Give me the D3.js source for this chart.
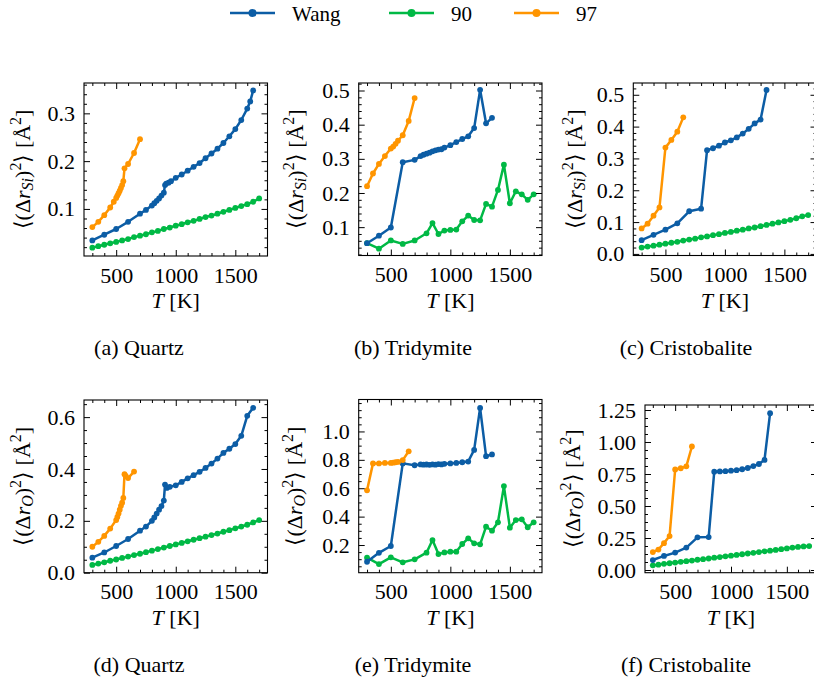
<!DOCTYPE html>
<html>
<head>
<meta charset="utf-8">
<script src="https://cdn.jsdelivr.net/npm/d3@7"></script>
<style>
  body { margin: 0; background: #fff; }
  svg { display: block; }
  text { font-family: "Liberation Serif", "Times New Roman", serif; fill: #000; }
</style>
</head>
<body>
<svg id="chart" width="814" height="680"></svg>
<script>
// ---- data ----
const seriesNames = ["Wang", "90", "97"];
const seriesColors = ["#0C5DA5", "#00B945", "#FF9500"];

const temps90 = [300,350,400,450,500,550,600,650,700,750,800,850,900,950,1000,1050,1100,1150,1200,1250,1300,1350,1400,1450,1500,1550,1600,1650,1700];
const tempsTrid90 = [300,400,500,600,700,800,850,900,950,1000,1050,1100,1150,1200,1250,1300,1350,1400,1450,1500,1550,1600,1650,1700];

// Quartz, Si
const quartzSiWangT = [300,400,500,600,700,750,800,820,840,860,880,900,910,920,940,960,1000,1050,1100,1150,1200,1250,1300,1350,1400,1450,1500,1550,1600,1625,1650];
const quartzSiWang = [.034,.046,.058,.073,.090,.098,.107,.112,.117,.122,.128,.134,.150,.153,.155,.158,.165,.172,.180,.188,.196,.206,.216,.226,.238,.252,.267,.286,.310,.325,.348];
const quartzSi90 = [.019,.022,.025,.028,.031,.034,.037,.041,.044,.047,.051,.054,.058,.061,.065,.068,.072,.075,.079,.083,.086,.090,.094,.098,.102,.106,.110,.115,.122];
const quartzSi97T = [300,350,400,450,480,500,510,520,530,540,550,560,570,600,650,700];
const quartzSi97 = [.062,.073,.087,.103,.115,.123,.128,.133,.138,.144,.150,.158,.185,.194,.217,.246];

// Tridymite, Si
const tridSiWangT = [300,400,500,600,700,750,775,800,825,850,875,900,925,950,1000,1050,1100,1150,1200,1250,1300,1350];
const tridSiWang = [.053,.075,.099,.290,.297,.308,.312,.315,.318,.322,.325,.327,.328,.333,.340,.349,.358,.366,.390,.502,.404,.420];
const tridSi90 = [.053,.037,.061,.051,.061,.082,.112,.080,.090,.092,.093,.117,.134,.121,.120,.168,.160,.209,.283,.170,.205,.196,.180,.196];
const tridSi97T = [300,350,400,450,500,520,540,560,600,650,700];
const tridSi97 = [.220,.257,.285,.308,.330,.336,.344,.353,.369,.411,.478];

// Cristobalite, Si
const cristSiWangT = [300,400,500,600,700,800,850,900,950,1000,1050,1100,1150,1200,1250,1300,1350];
const cristSiWang = [.043,.060,.076,.096,.134,.142,.326,.332,.340,.350,.357,.366,.378,.393,.410,.422,.515];
const cristSi90 = [.020,.023,.026,.029,.032,.035,.038,.042,.045,.048,.052,.055,.059,.062,.066,.069,.073,.076,.080,.083,.087,.091,.095,.099,.103,.107,.112,.118,.122];
const cristSi97T = [300,350,400,450,500,550,600,650];
const cristSi97 = [.080,.095,.120,.146,.334,.358,.384,.429];

// Quartz, O
const quartzOWangT = [300,400,500,600,700,750,800,820,840,860,880,900,910,925,950,1000,1050,1100,1150,1200,1250,1300,1350,1400,1450,1500,1550,1600,1650];
const quartzOWang = [.058,.078,.103,.130,.162,.178,.200,.213,.228,.243,.257,.278,.340,.327,.331,.337,.350,.364,.376,.389,.404,.421,.440,.462,.478,.496,.528,.605,.636];
const quartzO90 = [.030,.035,.040,.046,.051,.057,.062,.068,.073,.079,.085,.091,.097,.103,.109,.115,.121,.127,.133,.139,.145,.151,.158,.164,.171,.178,.185,.194,.203];
const quartzO97T = [300,350,400,450,500,510,520,530,540,550,560,570,580,600,650];
const quartzO97 = [.100,.119,.142,.170,.203,.215,.228,.243,.258,.270,.288,.380,.373,.365,.390];

// Tridymite, O
const tridOWangT = [300,400,500,600,700,750,775,800,825,850,875,900,925,950,1000,1050,1100,1150,1200,1250,1300,1350];
const tridOWang = [.082,.145,.193,.775,.762,.768,.766,.767,.765,.768,.766,.770,.768,.772,.775,.778,.783,.788,.870,1.165,.826,.838];
const tridO90 = [.111,.066,.113,.078,.099,.146,.235,.136,.148,.153,.153,.207,.247,.212,.205,.329,.301,.360,.615,.322,.376,.381,.325,.360];
const tridO97T = [300,350,400,450,500,520,540,560,600,650];
const tridO97 = [.585,.775,.775,.778,.778,.780,.783,.785,.798,.860];

// Cristobalite, O
const cristOWangT = [300,400,500,600,700,800,850,900,950,1000,1050,1100,1150,1200,1250,1300,1350];
const cristOWang = [.078,.110,.136,.175,.255,.257,.768,.770,.772,.776,.780,.787,.797,.812,.828,.860,1.225];
const cristO90 = [.037,.042,.048,.053,.058,.064,.069,.074,.080,.085,.090,.096,.101,.107,.112,.118,.123,.129,.134,.140,.146,.151,.157,.163,.169,.175,.180,.184,.187];
const cristO97T = [300,350,400,450,500,550,600,650];
const cristO97 = [.140,.160,.210,.265,.785,.795,.810,.965];

const xTicks = [500, 1000, 1500];

// ---- panel layout ----
const panels = [
  { cap: "(a) Quartz", capX: 139, atom: "Si", box: [84, 83, 267.5, 256], yDom: [0.0015, 0.3635], yTicks: [0.1, 0.2, 0.3], yFmt: ".1f", yMinor: 0.02, labX: 25,
    series: [[quartzSiWangT, quartzSiWang], [temps90, quartzSi90], [quartzSi97T, quartzSi97]] },
  { cap: "(b) Tridymite", capX: 413, atom: "Si", box: [358.7, 83, 542, 255.5], yDom: [0.017, 0.522], yTicks: [0.1, 0.2, 0.3, 0.4, 0.5], yFmt: ".1f", yMinor: 0.02, labX: 298,
    series: [[tridSiWangT, tridSiWang], [tempsTrid90, tridSi90], [tridSi97T, tridSi97]] },
  { cap: "(c) Cristobalite", capX: 686, atom: "Si", box: [633.3, 83, 816.5, 255.5], yDom: [-0.005, 0.537], yTicks: [0, 0.1, 0.2, 0.3, 0.4, 0.5], yFmt: ".1f", yMinor: 0.02, labX: 577,
    series: [[cristSiWangT, cristSiWang], [temps90, cristSi90], [cristSi97T, cristSi97]] },
  { cap: "(d) Quartz", capX: 139, atom: "O", box: [84, 400, 267.5, 572.7], yDom: [0, 0.666], yTicks: [0, 0.2, 0.4, 0.6], yFmt: ".1f", yMinor: 0.05, labX: 25,
    series: [[quartzOWangT, quartzOWang], [temps90, quartzO90], [quartzO97T, quartzO97]] },
  { cap: "(e) Tridymite", capX: 413, atom: "O", box: [358.7, 399.5, 542, 572.7], yDom: [0.005, 1.225], yTicks: [0.2, 0.4, 0.6, 0.8, 1.0], yFmt: ".1f", yMinor: 0.05, labX: 297,
    series: [[tridOWangT, tridOWang], [tempsTrid90, tridO90], [tridO97T, tridO97]] },
  { cap: "(f) Cristobalite", capX: 686, atom: "O", box: [645, 405, 817, 572.7], yDom: [-0.021, 1.289], yTicks: [0, 0.25, 0.5, 0.75, 1.0, 1.25], yFmt: ".2f", yMinor: 0.0625, labX: 575,
    series: [[cristOWangT, cristOWang], [temps90, cristO90], [cristO97T, cristO97]] }
];

const svg = d3.select("#chart");
const FS = 22;

function minorTicks(dom, step) {
  let out = [];
  let start = Math.ceil(dom[0] / step - 1e-9) * step;
  for (let v = start; v <= dom[1] + 1e-9; v += step) out.push(+v.toFixed(6));
  return out;
}

panels.forEach((p, pi) => {
  const [x0, y0, x1, y1] = p.box;
  const x = d3.scaleLinear().domain([230, 1770]).range([x0, x1]);
  const y = d3.scaleLinear().domain(p.yDom).range([y1, y0]);
  const g = svg.append("g");

  const clipId = "clip" + pi;
  g.append("clipPath").attr("id", clipId).append("rect")
    .attr("x", x0).attr("y", y0).attr("width", x1 - x0).attr("height", y1 - y0);

  // data
  const plot = g.append("g").attr("clip-path", `url(#${clipId})`);
  const order = [1, 0, 2];
  order.forEach(si => {
    const [ts, vs] = p.series[si];
    const pts = ts.map((t, i) => [t, vs[i]]);
    const line = d3.line().x(d => x(d[0])).y(d => y(d[1]));
    plot.append("path").datum(pts).attr("d", line)
      .attr("fill", "none").attr("stroke", seriesColors[si])
      .attr("stroke-width", 2.5).attr("stroke-linejoin", "round");
    plot.selectAll(null).data(pts).enter().append("circle")
      .attr("cx", d => x(d[0])).attr("cy", d => y(d[1])).attr("r", 2.9)
      .attr("fill", seriesColors[si]);
  });

  // axes (inward ticks on all sides)
  const xMinor = minorTicks([230, 1770], 100).filter(v => xTicks.indexOf(v) < 0);
  const yMinorV = minorTicks(p.yDom, p.yMinor).filter(v => !p.yTicks.some(t => Math.abs(t - v) < 1e-6));

  g.append("g").attr("transform", `translate(0,${y1})`)
    .call(d3.axisBottom(x).tickValues(xTicks).tickSize(-6).tickPadding(11).tickFormat(d3.format("d")));
  g.append("g").attr("transform", `translate(0,${y1})`)
    .call(d3.axisBottom(x).tickValues(xMinor).tickSize(-3).tickFormat(""));
  g.append("g").attr("transform", `translate(0,${y0})`)
    .call(d3.axisTop(x).tickValues(xTicks).tickSize(-6).tickFormat(""));
  g.append("g").attr("transform", `translate(0,${y0})`)
    .call(d3.axisTop(x).tickValues(xMinor).tickSize(-3).tickFormat(""));

  g.append("g").attr("transform", `translate(${x0},0)`)
    .call(d3.axisLeft(y).tickValues(p.yTicks).tickSize(-6).tickPadding(9).tickFormat(d3.format(p.yFmt)));
  g.append("g").attr("transform", `translate(${x0},0)`)
    .call(d3.axisLeft(y).tickValues(yMinorV).tickSize(-3).tickFormat(""));
  g.append("g").attr("transform", `translate(${x1},0)`)
    .call(d3.axisRight(y).tickValues(p.yTicks).tickSize(-6).tickFormat(""));
  g.append("g").attr("transform", `translate(${x1},0)`)
    .call(d3.axisRight(y).tickValues(yMinorV).tickSize(-3).tickFormat(""));

  g.selectAll(".domain").remove();
  g.selectAll(".tick line").attr("stroke", "#000").attr("stroke-width", 1);
  g.selectAll(".tick text").attr("font-size", FS).attr("fill", "#000");

  g.append("rect").attr("x", x0).attr("y", y0).attr("width", x1 - x0).attr("height", y1 - y0)
    .attr("fill", "none").attr("stroke", "#000").attr("stroke-width", 1.1);

  // x label
  const xl = g.append("text").attr("x", (x0 + x1) / 2).attr("y", y1 + 52)
    .attr("text-anchor", "middle").attr("font-size", FS);
  xl.append("tspan").attr("font-style", "italic").text("T");
  xl.append("tspan").text(" [K]");

  // y label
  const yl = g.append("text")
    .attr("transform", `translate(${p.labX},${(y0 + y1) / 2}) rotate(-90)`)
    .attr("text-anchor", "middle").attr("dominant-baseline", "middle").attr("font-size", FS);
  yl.append("tspan").text("\u27E8(\u0394");
  yl.append("tspan").attr("font-style", "italic").text("r");
  yl.append("tspan").attr("font-style", "italic").attr("font-size", 16).attr("dy", 4).text(p.atom);
  yl.append("tspan").attr("dy", -4).text(")");
  yl.append("tspan").attr("font-size", 16).attr("dy", -8).text("2");
  yl.append("tspan").attr("dy", 8).text("\u27E9 [\u00C5");
  yl.append("tspan").attr("font-size", 16).attr("dy", -8).text("2");
  yl.append("tspan").attr("dy", 8).text("]");

  // caption
  g.append("text").attr("x", p.capX).attr("y", y1 + 99)
    .attr("text-anchor", "middle").attr("font-size", FS).text(p.cap);
});

// ---- legend ----
const legendX = [230, 389, 514];
const legend = svg.append("g");
seriesNames.forEach((name, i) => {
  const lx = legendX[i];
  legend.append("line").attr("x1", lx).attr("x2", lx + 45).attr("y1", 13).attr("y2", 13)
    .attr("stroke", seriesColors[i]).attr("stroke-width", 2.5);
  legend.append("circle").attr("cx", lx + 22.5).attr("cy", 13).attr("r", 4).attr("fill", seriesColors[i]);
  legend.append("text").attr("x", lx + 62).attr("y", 21).attr("font-size", 21).text(name);
});
</script>
</body>
</html>
